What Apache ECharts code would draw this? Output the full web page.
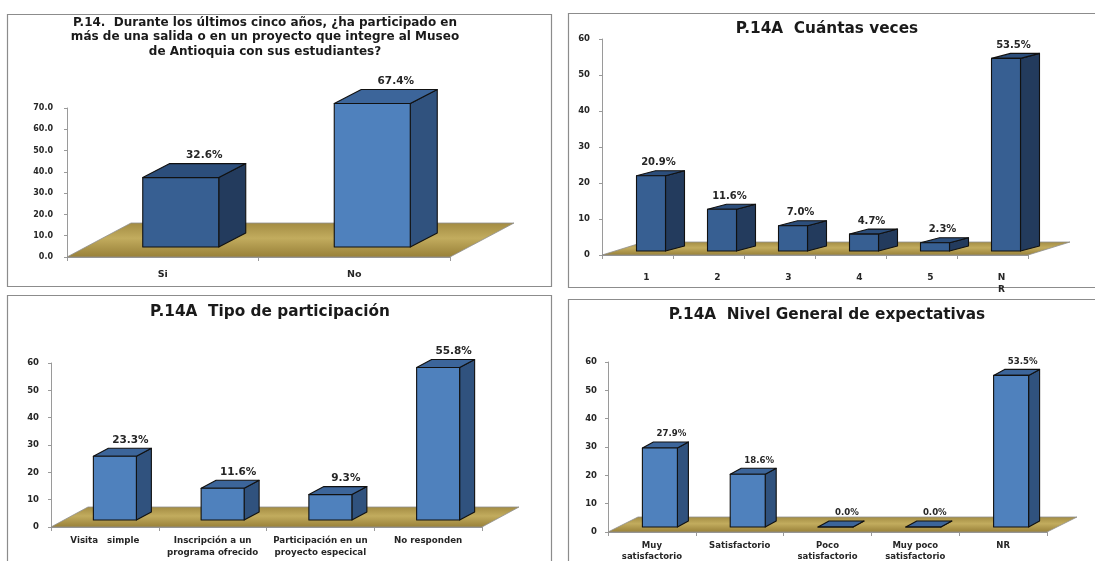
<!DOCTYPE html>
<html>
<head>
<meta charset="utf-8">
<title>P.14 Museo de Antioquia</title>
<script src="https://cdn.jsdelivr.net/npm/echarts@6/dist/echarts.min.js"></script>
<style>
  html, body { margin: 0; padding: 0; background: #ffffff; }
  #chart { width: 1095px; height: 561px; }
</style>
</head>
<body>
<div id="chart"></div>
<script>
// ---- Data -------------------------------------------------------------
const P1_TITLE = 'P.14.  Durante los últimos cinco años, ¿ha participado en\nmás de una salida o en un proyecto que integre al Museo\nde Antioquia con sus estudiantes?';
const P1_CATEGORIES = ['Si', 'No'];
const P1_VALUES = [32.6, 67.4];
const P1_Y_MAX = 70;

const P2_TITLE = 'P.14A  Cuántas veces';
const P2_CATEGORIES = ['1', '2', '3', '4', '5', 'NR'];
const P2_VALUES = [20.9, 11.6, 7.0, 4.7, 2.3, 53.5];
const P2_Y_MAX = 60;

const P3_TITLE = 'P.14A  Tipo de participación';
const P3_CATEGORIES = ['Visita   simple', 'Inscripción a un\nprograma ofrecido', 'Participación en un\nproyecto especical', 'No responden'];
const P3_VALUES = [23.3, 11.6, 9.3, 55.8];
const P3_Y_MAX = 60;

const P4_TITLE = 'P.14A  Nivel General de expectativas';
const P4_CATEGORIES = ['Muy\nsatisfactorio', 'Satisfactorio', 'Poco\nsatisfactorio', 'Muy poco\nsatisfactorio', 'NR'];
const P4_VALUES = [27.9, 18.6, 0.0, 0.0, 53.5];
const P4_Y_MAX = 60;

const Y_INTERVAL = 10;

// ---- Styling ----------------------------------------------------------
const FONT = '"DejaVu Sans", Verdana, sans-serif';
const TEXT_COLOR = '#262626';
const AXIS_COLOR = '#9a9a9a';
const DARK = { front: '#375f92', side: '#233b5d', top: '#2c4e7b' };
const LIGHT = { front: '#4f81bd', side: '#30527e', top: '#3c659a' };

// Per-panel geometry of the pseudo-3D look
const PANELS = [
  { title: P1_TITLE, cats: P1_CATEGORIES, vals: P1_VALUES, yMax: P1_Y_MAX,
    grid: { left: 67, top: 108, width: 383, height: 149 },
    floor: [64, -34], shift: [18, -10], barW: 76, depth: [27, -14], labelDx: 10,
    colors: [DARK, LIGHT], yDigits: 1, yMargin: 14, xMargin: 11, xPad: 0,
    yFont: 8, xFont: 9.5, valFont: 10.5 },
  { title: P2_TITLE, cats: P2_CATEGORIES, vals: P2_VALUES, yMax: P2_Y_MAX,
    grid: { left: 602, top: 39, width: 426, height: 216 },
    floor: [42, -13], shift: [13.5, -4], barW: 29, depth: [19, -5], labelDx: -2,
    colors: [DARK], yDigits: 0, yMargin: 12, xMargin: 17, xPad: 18,
    yFont: 8.5, xFont: 9, valFont: 10 },
  { title: P3_TITLE, cats: P3_CATEGORIES, vals: P3_VALUES, yMax: P3_Y_MAX,
    grid: { left: 51, top: 363, width: 431, height: 164 },
    floor: [37, -20], shift: [10, -7], barW: 43, depth: [15, -8], labelDx: 8,
    colors: [LIGHT], yDigits: 0, yMargin: 12, xMargin: 8, xPad: 0,
    yFont: 8.5, xFont: 8.7, valFont: 10.5 },
  { title: P4_TITLE, cats: P4_CATEGORIES, vals: P4_VALUES, yMax: P4_Y_MAX,
    grid: { left: 608, top: 362, width: 439, height: 170 },
    floor: [30, -15], shift: [8, -5], barW: 35, depth: [11, -6], labelDx: 6,
    colors: [LIGHT], yDigits: 0, yMargin: 11, xMargin: 8, xPad: 0,
    yFont: 8.5, xFont: 8.5, valFont: 8.6 }
];

// Panel frames and titles
const FRAMES = [
  { x: 7, y: 14, w: 544, h: 272, tx: 265, ty: 37, size: 12 },
  { x: 568, y: 13, w: 540, h: 274, tx: 827, ty: 29, size: 15.3 },
  { x: 7, y: 295, w: 544, h: 280, tx: 270, ty: 312, size: 15.3 },
  { x: 568, y: 299, w: 540, h: 280, tx: 827, ty: 315, size: 15.3 }
];

const floorFill = new echarts.graphic.LinearGradient(0, 0, 0, 1, [
  { offset: 0, color: '#a28b42' },
  { offset: 0.45, color: '#c2ac5e' },
  { offset: 0.7, color: '#ae974c' },
  { offset: 1, color: '#988038' }
]);

function floorRenderer(p) {
  return function (params) {
    const cs = params.coordSys;
    const fx = cs.x, fy = cs.y + cs.height;
    const [dx, dy] = p.floor;
    return {
      type: 'polygon',
      silent: true,
      shape: { points: [[fx, fy], [fx + cs.width, fy], [fx + cs.width + dx, fy + dy], [fx + dx, fy + dy]] },
      style: { fill: floorFill, stroke: '#8f8f8f', lineWidth: 0.8 }
    };
  };
}

function barRenderer(p) {
  return function (params, api) {
    const idx = api.value(0);
    const val = api.value(1);
    const base = api.coord([idx, 0]);
    const top = api.coord([idx, val]);
    const cx = base[0] + p.shift[0];
    const by = base[1] + p.shift[1];
    const ty = top[1] + p.shift[1];
    const hw = p.barW / 2;
    const x0 = cx - hw, x1 = cx + hw;
    const [dx, dy] = p.depth;
    const c = p.colors[params.dataIndex % p.colors.length];
    const edge = { stroke: '#111', lineWidth: 1.1, lineJoin: 'round' };
    const txt = val.toFixed(1) + '%';
    return {
      type: 'group',
      children: [
        { type: 'polygon', shape: { points: [[x1, ty], [x1 + dx, ty + dy], [x1 + dx, by + dy], [x1, by]] },
          style: Object.assign({ fill: c.side }, edge) },
        { type: 'polygon', shape: { points: [[x0, ty], [x0 + dx, ty + dy], [x1 + dx, ty + dy], [x1, ty]] },
          style: Object.assign({ fill: c.top }, edge) },
        { type: 'polygon', shape: { points: [[x0, ty], [x1, ty], [x1, by], [x0, by]] },
          style: Object.assign({ fill: c.front }, edge) },
        { type: 'text', x: cx + dx / 2 + p.labelDx, y: ty + dy - 8,
          style: { text: txt, fill: TEXT_COLOR, font: 'bold ' + p.valFont + 'px ' + FONT,
                   align: 'center', verticalAlign: 'middle', textAlign: 'center', textVerticalAlign: 'middle' } }
      ]
    };
  };
}

const grid = [], xAxis = [], yAxis = [], series = [];
PANELS.forEach(function (p, i) {
  grid.push(Object.assign({ outerBoundsMode: 'none', containLabel: false }, p.grid));
  xAxis.push({
    gridIndex: i, type: 'category', data: p.cats,
    axisLine: { show: true, lineStyle: { color: AXIS_COLOR, width: 1 } },
    axisTick: { show: true, length: 4, lineStyle: { color: AXIS_COLOR } },
    splitLine: { show: false },
    axisLabel: {
      interval: 0, margin: p.xMargin, color: TEXT_COLOR, fontFamily: FONT, fontWeight: 'bold',
      fontSize: p.xFont, lineHeight: p.xFont + 3, padding: [0, 0, 0, p.xPad],
      formatter: function (v) { return v === 'NR' && i === 1 ? 'N\nR' : v; }
    }
  });
  yAxis.push({
    gridIndex: i, type: 'value', min: 0, max: p.yMax, interval: Y_INTERVAL,
    axisLine: { show: true, lineStyle: { color: AXIS_COLOR, width: 1 } },
    axisTick: { show: true, length: 3, lineStyle: { color: AXIS_COLOR } },
    splitLine: { show: false },
    axisLabel: {
      margin: p.yMargin, color: TEXT_COLOR, fontFamily: FONT, fontWeight: 'bold', fontSize: p.yFont,
      formatter: function (v) { return v.toFixed(p.yDigits); }
    }
  });
  series.push({
    type: 'custom', xAxisIndex: i, yAxisIndex: i, z: 1, silent: true,
    renderItem: floorRenderer(p), data: [[0, 0]], clip: false
  });
  series.push({
    type: 'custom', xAxisIndex: i, yAxisIndex: i, z: 3, silent: true,
    renderItem: barRenderer(p), clip: false,
    data: p.vals.map(function (v, k) { return [k, v]; })
  });
});

const graphic = [];
FRAMES.forEach(function (f, i) {
  graphic.push({
    type: 'rect', silent: true, z: 0,
    shape: { x: f.x + 0.5, y: f.y + 0.5, width: f.w, height: f.h },
    style: { fill: null, stroke: '#8c8c8c', lineWidth: 1.2 }
  });
  graphic.push({
    type: 'text', silent: true, x: f.tx, y: f.ty,
    style: {
      text: PANELS[i].title, fill: '#1a1a1a',
      font: 'bold ' + f.size + 'px ' + FONT, lineHeight: 14.5,
      align: 'center', verticalAlign: 'middle', textAlign: 'center', textVerticalAlign: 'middle'
    }
  });
});

const chart = echarts.init(document.getElementById('chart'), null, { renderer: 'canvas' });
chart.setOption({
  animation: false,
  backgroundColor: '#ffffff',
  grid: grid, xAxis: xAxis, yAxis: yAxis, series: series, graphic: graphic
});
</script>
</body>
</html>
